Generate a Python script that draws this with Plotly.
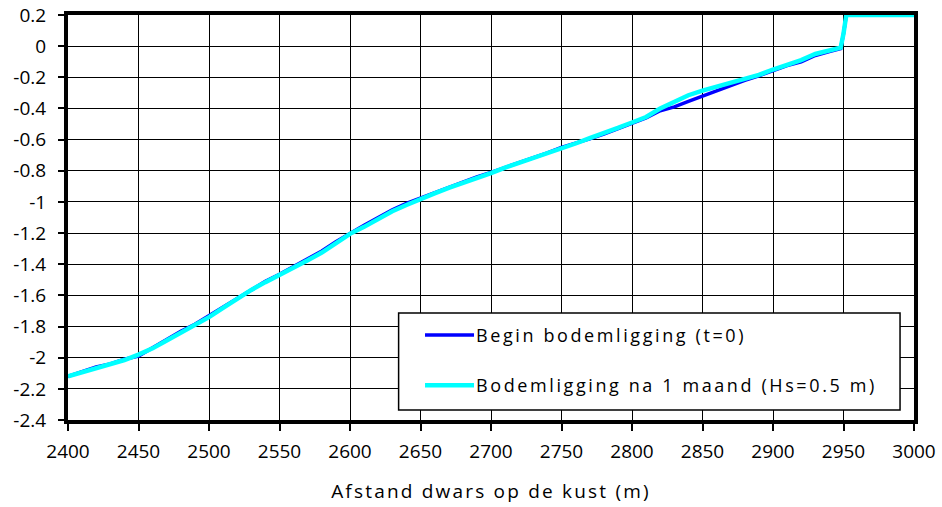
import plotly.graph_objects as go

# ---- data ----
afstand = [2400, 2410, 2420, 2430, 2440, 2450, 2460, 2470, 2480, 2490,
           2500, 2510, 2520, 2530, 2540, 2550, 2560, 2570, 2580, 2590,
           2600, 2610, 2620, 2630, 2640, 2650, 2660, 2670, 2680, 2690,
           2700, 2710, 2720, 2730, 2740, 2750, 2760, 2770, 2780, 2790,
           2800, 2810, 2820, 2830, 2840, 2850, 2860, 2870, 2880, 2890,
           2900, 2910, 2920, 2930, 2940, 2948, 2950, 2952, 2960, 2970,
           2980, 2990, 3000]

begin_bodem = [-2.12, -2.09, -2.06, -2.04, -2.01, -1.99, -1.935, -1.88, -1.83, -1.785,
               -1.73, -1.675, -1.615, -1.56, -1.51, -1.465, -1.415, -1.365, -1.315, -1.255,
               -1.2, -1.15, -1.1, -1.05, -1.01, -0.975, -0.94, -0.905, -0.87, -0.84,
               -0.81, -0.78, -0.75, -0.72, -0.685, -0.65, -0.625, -0.595, -0.565, -0.53,
               -0.495, -0.46, -0.415, -0.39, -0.355, -0.32, -0.29, -0.25, -0.22, -0.19,
               -0.155, -0.125, -0.1, -0.06, -0.035, -0.015, 0.08, 0.2, 0.2, 0.2,
               0.2, 0.2, 0.2]

na_1_maand = [-2.12, -2.095, -2.065, -2.045, -2.015, -1.98, -1.94, -1.89, -1.84, -1.79,
              -1.74, -1.68, -1.62, -1.565, -1.515, -1.47, -1.425, -1.375, -1.325, -1.265,
              -1.205, -1.16, -1.11, -1.06, -1.02, -0.98, -0.945, -0.91, -0.88, -0.845,
              -0.815, -0.78, -0.75, -0.72, -0.69, -0.655, -0.625, -0.59, -0.56, -0.525,
              -0.49, -0.455, -0.40, -0.355, -0.315, -0.285, -0.26, -0.24, -0.215, -0.185,
              -0.15, -0.12, -0.09, -0.05, -0.03, -0.01, 0.08, 0.2, 0.2, 0.2,
              0.2, 0.2, 0.2]

naam_begin = "Begin bodemligging (t=0)"
naam_na = "Bodemligging na 1 maand (Hs=0.5 m)"
x_titel = "Afstand dwars op de kust (m)"

x_ticks = [2400, 2450, 2500, 2550, 2600, 2650, 2700, 2750, 2800, 2850, 2900, 2950, 3000]
y_tickvals = [0.2, 0, -0.2, -0.4, -0.6, -0.8, -1, -1.2, -1.4, -1.6, -1.8, -2, -2.2, -2.4]
y_ticktext = ["0.2", "0", "-0.2", "-0.4", "-0.6", "-0.8", "-1", "-1.2", "-1.4",
              "-1.6", "-1.8", "-2", "-2.2", "-2.4"]

FONT = "Open Sans, DejaVu Sans, sans-serif"

fig = go.Figure()
fig.add_trace(go.Scatter(x=afstand, y=begin_bodem, mode="lines", name=naam_begin,
                         legendgroup="a",
                         line=dict(color="#0000ff", width=3.5)))
fig.add_trace(go.Scatter(x=afstand, y=na_1_maand, mode="lines", name=naam_na,
                         legendgroup="b",
                         line=dict(color="#00ffff", width=4.5)))

# opaque legend box
fig.add_shape(type="rect", xref="paper", yref="paper",
              x0=0.3908, x1=0.9835, y0=0.0247, y1=0.2642,
              line=dict(color="black", width=1.5), fillcolor="white", layer="above")

fig.update_layout(
    width=942, height=507,
    margin=dict(l=68, r=28, t=15, b=87, autoexpand=False),
    paper_bgcolor="white", plot_bgcolor="white",
    font=dict(family=FONT, size=19, color="black"),
    showlegend=True,
    legend=dict(x=0.435, y=0.255, xanchor="left", yanchor="top",
                bgcolor="rgba(0,0,0,0)", borderwidth=0,
                font=dict(size=18, color="black"),
                tracegroupgap=24, traceorder="grouped"),
    xaxis=dict(range=[2400, 3000], tickvals=x_ticks, ticks="outside", ticklen=7,
               tickwidth=1.5, tickcolor="black", automargin=False,
               showgrid=True, gridcolor="black", gridwidth=1,
               showline=True, linecolor="black", linewidth=4, mirror=True,
               zeroline=False, ticklabelstandoff=4,
               title=dict(text=x_titel, standoff=23, font=dict(size=19))),
    yaxis=dict(range=[-2.4, 0.2], tickvals=y_tickvals, ticktext=y_ticktext,
               ticks="outside", ticklen=6, tickwidth=1.5, tickcolor="black",
               automargin=False,
               showgrid=True, gridcolor="black", gridwidth=1,
               showline=True, linecolor="black", linewidth=4, mirror=True,
               zeroline=False, ticklabelstandoff=8),
)

post = """
document.body.style.margin = '0';
document.body.style.padding = '0';
var gd = document.getElementById('{plot_id}');
function tweak(){
  gd.querySelectorAll('.legendtext').forEach(function(t){t.style.letterSpacing='2.6px';});
  gd.querySelectorAll('.xtitle').forEach(function(t){t.style.letterSpacing='2.2px';});
  gd.querySelectorAll('.legendlines path').forEach(function(p){p.setAttribute('d','M-11,0h49');});
  gd.querySelectorAll('.legend .scrollbox').forEach(function(s){s.removeAttribute('clip-path');});
  gd.querySelectorAll('.legend').forEach(function(s){s.removeAttribute('clip-path');});
}
tweak();
gd.on('plotly_afterplot', tweak);
"""

fig.write_html("out.html", post_script=post, config={"displayModeBar": False})
